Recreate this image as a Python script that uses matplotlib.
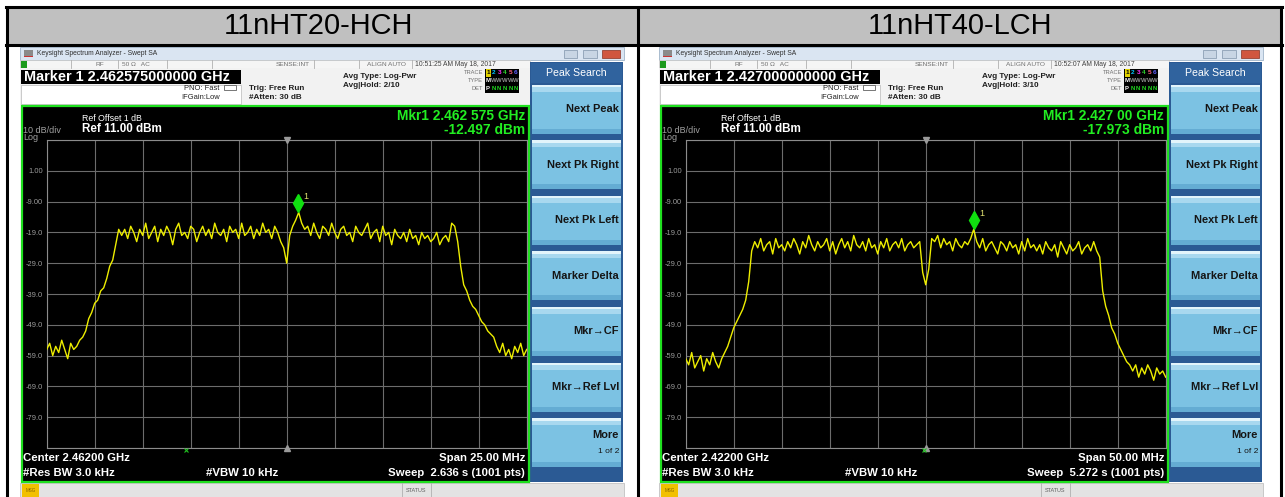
import numpy as np
import matplotlib.pyplot as plt
from matplotlib.patches import Rectangle
from matplotlib.transforms import offset_copy

plt.rcParams['font.family'] = ['Liberation Sans', 'DejaVu Sans']

W, H = 1285, 497

# channel captions and analyzer settings for each capture
titles = ["11nHT20-HCH", "11nHT40-LCH"]
center_ghz = [2.462, 2.422]
span_mhz = [25.0, 50.0]
marker_mhz = [2462.575, 2427.0]
marker_dbm = [-12.497, -17.973]
marker_readout = ["2.462575000000", "2.427000000000"]
mkr_freq_text = ["2.462 575 GHz", "2.427 00 GHz"]
sweep_s = ["2.636", "5.272"]
avg_hold = ["2/10", "3/10"]
timestamps = ["10:51:25 AM May 18, 2017", "10:52:07 AM May 18, 2017"]
ref_dbm = 11.0
db_per_div = 10
softkeys = ["Next Peak", "Next Pk Right", "Next Pk Left", "Marker Delta",
            "Mkr\u2192CF", "Mkr\u2192Ref Lvl"]

# trace levels (dBm), evenly spaced across the span
ht20_levels = [
    -57, -55, -59, -56, -58, -54, -57, -60, -55, -57, -56, -54,
    -53, -51, -47, -45, -42, -41, -38, -37, -34, -30, -28, -23, -18,
    -20, -18, -21, -17, -19, -22, -18, -20, -16, -21,
    -19, -17, -22, -18, -20, -17, -19, -23, -18, -16,
    -20, -19, -21, -17, -18, -22, -19, -17, -20, -18,
    -21, -16, -19, -20, -18, -22, -17, -19, -18, -21,
    -16, -20, -19, -17, -21, -18, -20, -16, -19, -18,
    -21, -17, -19, -22,
    -24, -29, -20,
    -17, -15, -12.497, -16, -18,
    -17, -20, -16, -19, -21, -17, -18, -20, -16, -19,
    -21, -18, -17, -20, -19, -22, -17, -19, -20, -18,
    -16, -21, -19, -18, -22, -17, -20, -19, -23, -18,
    -20, -21, -19, -22, -18, -21, -20, -23, -19, -21,
    -20, -22, -21, -19, -23, -21, -20, -22, -16, -17,
    -22, -30, -36, -38, -41, -43, -44, -46, -48, -49, -51, -52, -53,
    -56, -58, -55, -59, -57, -60, -56, -58, -55, -59, -57,
]
ht40_levels = [
    -60, -62, -58, -63, -61, -59, -64, -60, -62, -58, -61, -63, -60,
    -58, -56, -53, -50, -48, -46, -44, -41, -35, -25,
    -22, -24, -21, -25, -23, -22, -26, -21, -24, -23,
    -25, -22, -24, -21, -23, -26, -22, -24, -20, -23,
    -25, -22, -24, -23, -21, -25, -22, -26, -23, -21,
    -24, -22, -25, -20, -23, -24, -22, -25, -21, -24,
    -23, -26, -22, -24, -21, -25, -23, -22, -24, -21,
    -25, -23, -22, -24, -23, -22,
    -32, -36, -31,
    -21, -22, -20, -24, -21, -23, -22, -25, -21, -23, -24, -22, -23, -21,
    -17.973,
    -22, -24, -21, -25, -23, -22, -24, -26, -22, -23,
    -25, -22, -24, -23, -26, -22, -25, -21, -24, -23,
    -25, -23, -26, -22, -24, -25, -23, -27, -22, -24,
    -26, -23, -25, -24, -22, -26, -24, -23, -25, -22,
    -25,
    -27, -38, -43, -46, -50, -52, -55, -57, -59, -61, -62,
    -64, -62, -66, -63, -65, -62, -64, -67, -63, -65, -64, -66,
]
traces = [ht20_levels, ht40_levels]

fig = plt.figure(figsize=(W / 100, H / 100), dpi=100)
cv = fig.add_axes([0, 0, 1, 1])
cv.set_xlim(0, W)
cv.set_ylim(H, 0)
cv.axis('off')


def rect(x0, y0, x1, y1, fc, ec='none', lw=0, z=1):
    cv.add_patch(Rectangle((x0, y0), x1 - x0, y1 - y0, fc=fc, ec=ec, lw=lw, zorder=z))


def txt(x, y, s, px, color='black', ha='left', bold=False, z=5):
    cv.text(x, y, s, fontsize=px * 0.72, color=color, ha=ha, va='center',
            fontweight='bold' if bold else 'normal', zorder=z)


# table frame with the grey caption row
rect(7, 7, 1281, 45, '#c0c0c0')
for x in (7, 637.5, 1281):
    cv.plot([x, x], [7, H], color='black', lw=2.2, zorder=6, solid_capstyle='butt')
for y in (7, 45):
    cv.plot([6, 1282], [y, y], color='black', lw=2.2, zorder=6)
txt(318, 26, titles[0], 29, ha='center')
txt(960, 26, titles[1], 29, ha='center')


def draw_screen(k, sx):
    # window title bar
    rect(sx, 47, sx + 604, 60, '#dae5f2', ec='#9fb3c8', lw=0.6)
    rect(sx + 4, 50, sx + 13, 57, '#8a8a8a')
    rect(sx + 4, 55.5, sx + 13, 57, '#cc3333')
    txt(sx + 17, 53.5, "Keysight Spectrum Analyzer - Swept SA", 6.8, '#303030')
    rect(sx + 544, 50, sx + 557, 57.5, '#c8d5e4', ec='#7f93aa', lw=0.5)
    rect(sx + 563, 50, sx + 577, 57.5, '#c8d5e4', ec='#7f93aa', lw=0.5)
    rect(sx + 582, 50, sx + 600, 57.5, '#d0563f', ec='#8a3020', lw=0.5)

    # status strip
    rect(sx, 60, sx + 510, 68, '#f5f5f5', ec='#c4c4c4', lw=0.5)
    rect(sx + 1, 61, sx + 7, 67.5, '#1c9a1c')
    for rx in (51, 98, 147, 192, 294, 339, 392):
        cv.plot([sx + rx, sx + rx], [60, 68], color='#b0b0b0', lw=0.6, zorder=2)
    txt(sx + 80, 64, "RF", 6.5, '#707070', ha='center')
    txt(sx + 102, 64, "50 \u03a9   AC", 6.5, '#707070')
    txt(sx + 290, 64, "SENSE:INT", 6.5, '#707070', ha='right')
    txt(sx + 366, 64, "ALIGN AUTO", 6.5, '#707070', ha='center')
    txt(sx + 395, 64, timestamps[k], 6.8, '#404040')

    # marker readout and settings area
    rect(sx, 68, sx + 510, 105, '#f2f2f2')
    rect(sx + 1, 69.5, sx + 221, 84, 'black')
    txt(sx + 4, 77, "Marker 1 " + marker_readout[k] + " GHz", 14.5, 'white', bold=True)
    rect(sx + 1, 84.5, sx + 221, 104, 'white', ec='#b8b8b8', lw=0.5)
    txt(sx + 199, 88, "PNO: Fast", 7.5, '#202020', ha='right')
    txt(sx + 200, 97.5, "IFGain:Low", 7.5, '#202020', ha='right')
    rect(sx + 204, 84.5, sx + 216, 90, 'white', ec='#606060', lw=0.6)
    txt(sx + 229, 88, "Trig: Free Run", 8.2, '#202020', bold=True)
    txt(sx + 229, 97.5, "#Atten: 30 dB", 8.2, '#202020', bold=True)
    txt(sx + 323, 76, "Avg Type: Log-Pwr", 8.2, '#202020', bold=True)
    txt(sx + 323, 85.5, "Avg|Hold: " + avg_hold[k], 8.2, '#202020', bold=True)
    for ry, lab in zip((73, 81, 89), ("TRACE", "TYPE", "DET")):
        txt(sx + 463, ry, lab, 5.8, '#707070', ha='right')
    rect(sx + 465, 68.5, sx + 499, 93, 'black')
    rect(sx + 465.5, 69, sx + 471, 77, '#e0d000')
    dig_cols = ['black', '#00c8ff', '#ff30ff', '#30d030', '#ff6080', '#6060ff']
    for j in range(6):
        txt(sx + 468 + 5.6 * j, 73, str(j + 1), 6.5, dig_cols[j], ha='center', bold=True)
        txt(sx + 468 + 5.6 * j, 81, "M" if j == 0 else "W", 6.0,
            'white' if j == 0 else '#909090', ha='center', bold=True)
        txt(sx + 468 + 5.6 * j, 89, "P" if j == 0 else "N", 6.0,
            'white' if j == 0 else '#20e020', ha='center', bold=True)

    # softkey panel
    rect(sx + 510, 62, sx + 603, 482, '#2b5a94')
    rect(sx + 511, 63, sx + 602, 83, '#30639e')
    txt(sx + 556, 72.5, "Peak Search", 10.5, 'white', ha='center')
    tops = [84.5 + 55.6 * j for j in range(7)]
    for j, top in enumerate(tops):
        rect(sx + 512, top, sx + 601, top + 49, '#7cc2e3')
        rect(sx + 512, top, sx + 601, top + 2.5, '#e2f4fb')
        rect(sx + 512, top + 2.5, sx + 601, top + 7, '#a8d8ef')
        rect(sx + 512, top + 44, sx + 601, top + 49, '#64acd3')
        if j < len(softkeys):
            txt(sx + 599, top + 24.5, softkeys[j], 11, '#151515', ha='right', bold=True)
    txt(sx + 599, tops[6] + 17, "More", 11, '#151515', ha='right', bold=True)
    txt(sx + 599, tops[6] + 33, "1 of 2", 8.5, '#151515', ha='right')

    # black measurement area with green frame
    rect(sx + 1.5, 105.5, sx + 509, 481.5, 'black', ec='#1fe01f', lw=1.6, z=2)
    txt(sx + 3, 130.5, "10 dB/div", 9, '#a0a0a0', z=6)
    txt(sx + 3, 138, "Log", 9, '#a0a0a0', z=6)
    txt(sx + 62, 118.5, "Ref Offset 1 dB", 8.8, 'white', z=6)
    txt(sx + 62, 129.5, "Ref %.2f dBm" % ref_dbm, 11.6, 'white', bold=True, z=6)
    txt(sx + 505, 115.5, "Mkr1 " + mkr_freq_text[k], 13.8, '#22ee22', ha='right', bold=True, z=6)
    txt(sx + 505, 129.5, "%.3f dBm" % marker_dbm[k], 13.8, '#22ee22', ha='right', bold=True, z=6)
    txt(sx + 3, 458, "Center %.5f GHz" % center_ghz[k], 11.4, 'white', bold=True, z=6)
    txt(sx + 505, 458, "Span %.2f MHz" % span_mhz[k], 11.4, 'white', ha='right', bold=True, z=6)
    txt(sx + 3, 472.5, "#Res BW 3.0 kHz", 11.4, 'white', bold=True, z=6)
    txt(sx + 186, 472.5, "#VBW 10 kHz", 11.4, 'white', bold=True, z=6)
    txt(sx + 505, 472.5, "Sweep  %s s (1001 pts)" % sweep_s[k], 11.4, 'white',
        ha='right', bold=True, z=6)

    # message bar
    rect(sx, 483, sx + 604, H, '#e3e3e3', ec='#b8b8b8', lw=0.5)
    rect(sx + 2, 484, sx + 19, H, '#f2c000')
    txt(sx + 10.5, 490, "MSG", 4.5, '#806000', ha='center')
    for rx in (382, 411):
        cv.plot([sx + rx, sx + rx], [483, H], color='#b0b0b0', lw=0.6, zorder=2)
    txt(sx + 396.5, 490, "STATUS", 5.5, '#606060', ha='center')

    # graticule and trace
    gx0, gy0, gw, gh = sx + 26.7, 140.0, 480.0, 308.0
    sa = fig.add_axes([gx0 / W, 1 - (gy0 + gh) / H, gw / W, gh / H])
    sa.set_facecolor('black')
    f0 = center_ghz[k] * 1000 - span_mhz[k] / 2
    f1 = f0 + span_mhz[k]
    bottom = ref_dbm - 10 * db_per_div
    sa.set_xlim(f0, f1)
    sa.set_ylim(bottom, ref_dbm)
    sa.set_xticks(np.linspace(f0, f1, 11))
    sa.set_xticklabels([])
    yt = ref_dbm - db_per_div * np.arange(11)
    sa.set_yticks(yt)
    sa.set_yticklabels(["" if (i == 0 or i == 10) else
                        ("%.2f" % v if abs(v) < 10 else "%.1f" % v)
                        for i, v in enumerate(yt)])
    sa.tick_params(length=0, labelcolor='#9c9c9c', labelsize=5.4, pad=2.5)
    sa.grid(True, color='#6c6c6c', lw=0.8)
    sa.set_axisbelow(True)
    for sp in sa.spines.values():
        sp.set_color('#8c8c8c')
        sp.set_linewidth(0.8)
    lv = traces[k]
    fr = np.linspace(f0, f1, len(lv))
    sa.plot(fr, lv, color='#eeee00', lw=1.0, zorder=3)
    cen = center_ghz[k] * 1000
    sa.plot([cen], [ref_dbm], marker='v', ms=4, color='#9a9a9a', clip_on=False, zorder=4)
    sa.plot([cen], [bottom], marker='^', ms=4, color='#9a9a9a', clip_on=False, zorder=4)
    sa.plot([f0 + span_mhz[k] * (0.29 if k == 0 else 0.496)], [bottom - 0.8], marker='x', ms=2.5,
            color='#20c020', mew=0.8, clip_on=False, zorder=4)
    up = offset_copy(sa.transData, fig=fig, x=0, y=9, units='dots')
    sa.plot([marker_mhz[k]], [marker_dbm[k]], marker='d', ms=9, color='#10e010',
            transform=up, zorder=5)
    lab = offset_copy(sa.transData, fig=fig, x=8, y=16, units='dots')
    sa.text(marker_mhz[k], marker_dbm[k], "1", transform=lab, color='#e0e070',
            fontsize=6.5, ha='center', va='center', zorder=5)


draw_screen(0, 20)
draw_screen(1, 659)

fig.savefig("out.png", dpi=100, facecolor='white')
